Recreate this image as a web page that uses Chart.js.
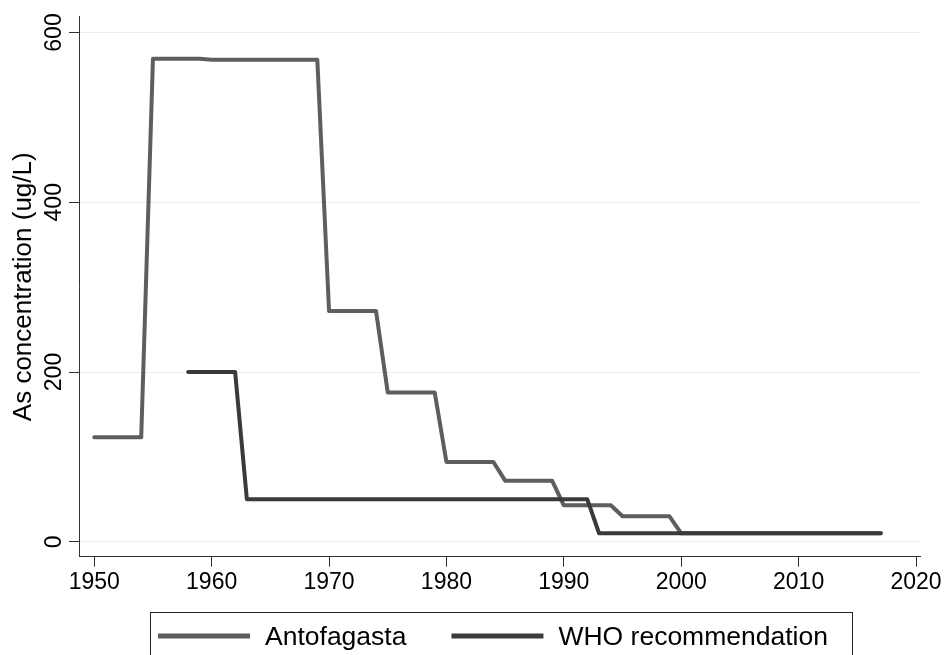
<!DOCTYPE html>
<html>
<head>
<meta charset="utf-8">
<script src="https://cdn.jsdelivr.net/npm/chart.js@4"></script>
<style>
  html, body { margin: 0; padding: 0; background: #fff; }
  #wrap { width: 945px; height: 655px; position: relative; }
</style>
</head>
<body>
<div id="wrap"><canvas id="asChart"></canvas></div>
<script>
// --- DATA ---
const years = [1950, 1951, 1952, 1953, 1954, 1955, 1956, 1957, 1958, 1959,
               1960, 1961, 1962, 1963, 1964, 1965, 1966, 1967, 1968, 1969,
               1970, 1971, 1972, 1973, 1974, 1975, 1976, 1977, 1978, 1979,
               1980, 1981, 1982, 1983, 1984, 1985, 1986, 1987, 1988, 1989,
               1990, 1991, 1992, 1993, 1994, 1995, 1996, 1997, 1998, 1999,
               2000, 2001, 2002, 2003, 2004, 2005, 2006, 2007, 2008, 2009,
               2010, 2011, 2012, 2013, 2014, 2015, 2016, 2017];

const antofagasta = [123, 123, 123, 123, 123, 569, 569, 569, 569, 569,
                     568, 568, 568, 568, 568, 568, 568, 568, 568, 568,
                     272, 272, 272, 272, 272, 176, 176, 176, 176, 176,
                     94, 94, 94, 94, 94, 72, 72, 72, 72, 72,
                     43, 43, 43, 43, 43, 30, 30, 30, 30, 30,
                     10, 10, 10, 10, 10, 10, 10, 10, 10, 10,
                     10, 10, 10, 10, 10, 10, 10, 10];

const whoRec = [null, null, null, null, null, null, null, null, 200, 200,
                200, 200, 200, 50, 50, 50, 50, 50, 50, 50,
                50, 50, 50, 50, 50, 50, 50, 50, 50, 50,
                50, 50, 50, 50, 50, 50, 50, 50, 50, 50,
                50, 50, 50, 10, 10, 10, 10, 10, 10, 10,
                10, 10, 10, 10, 10, 10, 10, 10, 10, 10,
                10, 10, 10, 10, 10, 10, 10, 10];

const xTicks = [1950, 1960, 1970, 1980, 1990, 2000, 2010, 2020];
const yTicks = [0, 200, 400, 600];
const seriesNames = ['Antofagasta', 'WHO recommendation'];
const yTitle = 'As concentration (ug/L)';

const FONT = '"Liberation Sans", Arial, Helvetica, sans-serif';

function toPoints(vals) {
    return years.map((yr, i) => ({ x: yr, y: vals[i] })).filter(p => p.y !== null);
}

// y tick labels are drawn rotated, like the original
const rotatedYLabels = {
    id: 'rotatedYLabels',
    afterDraw(chart) {
        const ctx = chart.ctx;
        const ys = chart.scales.y;
        ctx.save();
        ctx.fillStyle = '#000';
        ctx.font = '23px ' + FONT;
        ctx.textAlign = 'center';
        ctx.textBaseline = 'alphabetic';
        ys.ticks.forEach(t => {
            const py = ys.getPixelForValue(t.value);
            ctx.save();
            ctx.translate(61, py);
            ctx.rotate(-Math.PI / 2);
            ctx.fillText(String(t.value), 0, 0);
            ctx.restore();
        });
        ctx.restore();
    }
};

// boxed legend at the bottom
const boxLegend = {
    id: 'boxLegend',
    afterDraw(chart) {
        const ctx = chart.ctx;
        ctx.save();
        ctx.strokeStyle = '#222';
        ctx.lineWidth = 1;
        ctx.strokeRect(150.5, 612.5, 702, 80);
        ctx.font = '26.5px ' + FONT;
        ctx.textBaseline = 'alphabetic';
        ctx.textAlign = 'left';
        let x = 158;
        const cy = 636;
        chart.data.datasets.forEach(ds => {
            ctx.strokeStyle = ds.borderColor;
            ctx.lineWidth = 5;
            ctx.lineCap = 'butt';
            ctx.beginPath();
            ctx.moveTo(x, cy);
            ctx.lineTo(x + 92, cy);
            ctx.stroke();
            ctx.fillStyle = '#000';
            ctx.fillText(ds.label, x + 107, 645);
            x += 107 + ctx.measureText(ds.label).width + 45;
        });
        ctx.restore();
    }
};

const chart = new Chart(document.getElementById('asChart'), {
    type: 'line',
    data: {
        datasets: [
            {
                label: seriesNames[0],
                data: toPoints(antofagasta),
                borderColor: '#5e5e5e',
                borderWidth: 4,
                borderCapStyle: 'round',
                borderJoinStyle: 'round',
                pointRadius: 0,
                tension: 0,
                order: 1
            },
            {
                label: seriesNames[1],
                data: toPoints(whoRec),
                borderColor: '#3a3a3a',
                borderWidth: 4,
                borderCapStyle: 'round',
                borderJoinStyle: 'round',
                pointRadius: 0,
                tension: 0,
                order: 0
            }
        ]
    },
    options: {
        responsive: true,
        maintainAspectRatio: false,
        animation: false,
        layout: { padding: { top: 16, right: 25, left: 0, bottom: 0 } },
        plugins: {
            legend: { display: false },
            tooltip: { enabled: false }
        },
        scales: {
            x: {
                type: 'linear',
                min: 1948.7,
                max: 2020.34,
                afterBuildTicks: (s) => { s.ticks = xTicks.map(v => ({ value: v })); },
                afterFit: (s) => { s.height = 98.3; },
                grid: { drawOnChartArea: false, drawTicks: true, tickLength: 10, tickColor: '#333', tickWidth: 1 },
                border: { display: true, color: '#333', width: 1 },
                ticks: {
                    color: '#000',
                    padding: 2,
                    maxRotation: 0,
                    font: { family: FONT, size: 23 },
                    callback: (v) => String(v)
                }
            },
            y: {
                type: 'linear',
                min: -17.6,
                max: 618.5,
                afterBuildTicks: (s) => { s.ticks = yTicks.map(v => ({ value: v })); },
                afterFit: (s) => { s.width = 79; },
                grid: { color: '#ececec', lineWidth: 1, drawTicks: true, tickLength: 10, tickColor: '#333', tickWidth: 1 },
                border: { display: true, color: '#333', width: 1 },
                ticks: {
                    color: 'rgba(0,0,0,0)',
                    font: { family: FONT, size: 23 },
                    callback: (v) => String(v)
                },
                title: {
                    display: true,
                    text: yTitle,
                    color: '#000',
                    font: { family: FONT, size: 26 },
                    padding: { top: 8, bottom: 0 }
                }
            }
        }
    },
    plugins: [rotatedYLabels, boxLegend]
});
</script>
</body>
</html>
